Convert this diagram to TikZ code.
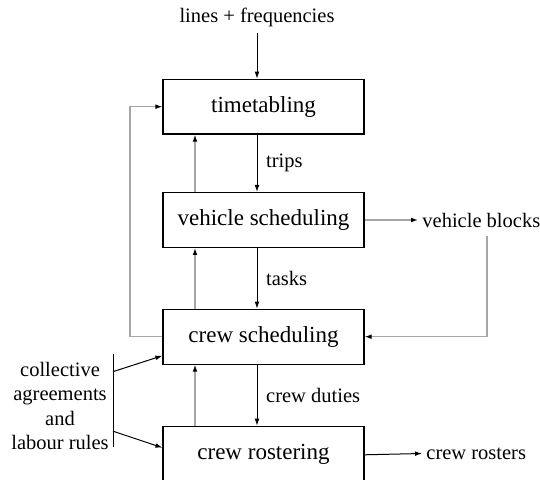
\documentclass[tikz,border=0pt]{standalone}
\usepackage{fontspec}
\setmainfont{Liberation Serif}
\usetikzlibrary{calc, arrows.meta}

\begin{document}
\begin{tikzpicture}[x=0.5pt, y=-0.5pt,
    stage/.style={draw, line width=0.6pt, minimum width=100.5pt, minimum height=27.4pt,
      font=\fontsize{11.5}{14}\selectfont},
    lbl/.style={font=\fontsize{10.25}{12.25}\selectfont},
    flow/.style={-{Latex[length=3.5pt,width=2.4pt]}, line width=0.5pt},
    back/.style={-{Latex[length=3.5pt,width=2.4pt,color=black]}, line width=0.6pt, gray!70}]
    % --- 1. frame ---
    \useasboundingbox (0,0) rectangle (540,480);
    \clip (0,0) rectangle (540,480);

    % --- 2. columns for the arrows ---
    \coordinate (dn) at (257,0);
    \coordinate (up) at (195,0);
    \coordinate (fb) at (130,0);
    \coordinate (vbd) at (487,0);

    % --- 3. the four planning stages ---
    \node[stage] (tt) at (263.5,106.7) {timetabling};
    \node[stage] (vs) at (263.5,220) {vehicle scheduling};
    \node[stage] (cs) at (263.5,336.7) {crew scheduling};
    \node[stage, minimum height=28.5pt, anchor=north] (cr) at (263.5,425.7) {crew rostering};

    % --- 4. inputs and outputs ---
    \node[lbl] (lf) at (257,17) {lines + frequencies};
    \node[lbl, anchor=west, inner sep=2pt] (vb) at (418,220) {vehicle blocks};
    \node[lbl, anchor=west, inner sep=2pt] (cro) at (422,453.5) {crew rosters};
    \node[lbl, align=center] (car) at (60,406) {collective\\agreements\\and\\labour rules};

    % --- 5. bar beside the rules ---
    \coordinate (bt) at (113,354);
    \coordinate (bb) at (113,447);
    \draw[line width=0.5pt] (bt) -- (bb);

    % --- 6. downward flow ---
    \draw[flow] (lf.south) -- (tt.north -| lf);
    \draw[flow] (tt.south -| dn) -- node[lbl, right=1pt] {trips} (vs.north -| dn);
    \draw[flow] (vs.south -| dn) -- node[lbl, right=1pt] {tasks} (cs.north -| dn);
    \draw[flow] (cs.south -| dn) -- node[lbl, right=1pt] {crew duties} (cr.north -| dn);
    \draw[flow] (cr.east) -- (cro.west);
    \draw[flow] ($(bt)!0.19!(bb)$) -- ($(cs.south west)+(0,-9)$);
    \draw[flow] ($(bt)!0.83!(bb)$) -- ($(cr.north west)+(0,22)$);

    % --- 7. feedback ---
    \draw[back] (vs.north -| up) -- (tt.south -| up);
    \draw[back] (cs.north -| up) -- (vs.south -| up);
    \draw[back] (cr.north -| up) -- (cs.south -| up);
    \draw[back] (cs.west) -- (cs.west -| fb) -- (tt.west -| fb) -- (tt.west);
    \draw[back] (vs.east) -- (vb.west);
    \draw[back] ($(vb.south -| vbd)+(0,4)$) |- (cs.east);
\end{tikzpicture}
\end{document}
